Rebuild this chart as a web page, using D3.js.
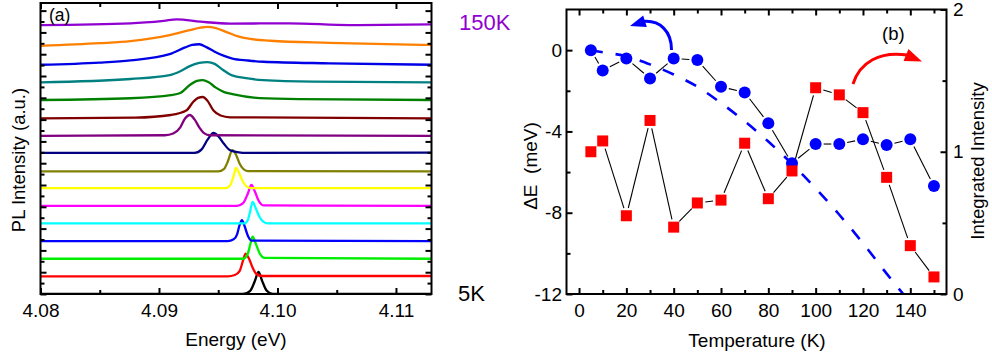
<!DOCTYPE html>
<html><head><meta charset="utf-8">
<script src="https://cdn.jsdelivr.net/npm/d3@7"></script>
<style>
body{margin:0;background:#fff}
svg{display:block}
text{font-family:"Liberation Sans",Arial,Helvetica,sans-serif;fill:#000}
</style>
</head><body>
<svg id="chart" width="992" height="361"></svg>
<script>
// ---------------- DATA : panel (a) PL spectra ----------------
// each spectrum: [energy (eV), intensity above its own stacking offset (a.u.)]
const spectrumLabels = ["5K","10K","20K","30K","40K","50K","60K","70K","80K","90K","100K","110K","120K","130K","140K","150K"];
const spectrumColors = ["#000000","#ff0000","#00ee00","#0000ff","#00ffff","#ff00ff","#ffff00","#808000",
                        "#000080","#800080","#800000","#008000","#008080","#0000e6","#ff8000","#9000d0"];
const spec05  = [[4.080,0],[4.0971,0],[4.0977,0.18],[4.0981,0.75],[4.0984,1.26],[4.0987,0.75],[4.0991,0.18],[4.0996,0],[4.113,0]];
const spec10  = [[4.080,0],[4.0958,0],[4.0964,0.08],[4.0968,0.3],[4.0971,0.9],[4.0973,1.29],[4.0976,1.0],[4.0979,0.5],[4.0982,0.15],[4.0987,0.02],[4.113,0.02]];
const spec20  = [[4.080,0],[4.0971,0],[4.0975,0.3],[4.0977,0.8],[4.0979,1.25],[4.0982,0.8],[4.0985,0.3],[4.0989,0.05],[4.113,0]];
const spec30  = [[4.080,0],[4.0958,0],[4.0963,0.1],[4.0966,0.4],[4.0968,0.9],[4.0970,1.19],[4.0972,0.9],[4.0975,0.3],[4.0978,0.03],[4.113,0]];
const spec40  = [[4.080,0],[4.0972,0],[4.0975,0.2],[4.0977,0.7],[4.0979,1.22],[4.0982,0.8],[4.0985,0.35],[4.0988,0.1],[4.0992,0],[4.113,0]];
const spec50  = [[4.080,0],[4.0966,0],[4.0971,0.15],[4.0975,0.7],[4.0978,1.19],[4.0981,0.8],[4.0984,0.3],[4.0988,0.03],[4.113,0]];
const spec60  = [[4.080,0],[4.0956,0],[4.0960,0.15],[4.0963,0.7],[4.0965,1.15],[4.0968,0.8],[4.0971,0.35],[4.0974,0.1],[4.0978,0],[4.113,0]];
const spec70  = [[4.080,-0.05],[4.0950,-0.05],[4.0955,0.1],[4.0958,0.5],[4.0962,1.16],[4.0965,0.9],[4.0968,0.4],[4.0971,0.1],[4.0975,-0.03],[4.113,-0.05]];
const spec80  = [[4.080,0],[4.0930,0],[4.0936,0.2],[4.0941,0.75],[4.0946,1.13],[4.0950,0.95],[4.0955,0.5],[4.0960,0.15],[4.0966,0.05],[4.0975,0],[4.113,0.02]];
const spec90  = [[4.080,-0.03],[4.0905,0],[4.0912,0.1],[4.0918,0.45],[4.0922,0.95],[4.0926,1.15],[4.0930,0.9],[4.0934,0.45],[4.0938,0.12],[4.0943,0],[4.113,-0.03]];
const spec100 = [[4.080,-0.04],[4.0880,0],[4.0910,0.15],[4.0923,0.4],[4.0929,0.9],[4.0933,1.12],[4.0937,1.17],[4.0941,0.95],[4.0946,0.4],[4.0952,0.12],[4.0960,0.02],[4.113,-0.04]];
const spec110 = [[4.080,0],[4.0876,0.1],[4.0910,0.28],[4.0918,0.4],[4.0926,0.85],[4.0932,1.08],[4.0937,1.13],[4.0942,1.0],[4.0948,0.7],[4.0955,0.45],[4.0962,0.33],[4.0985,0.11],[4.1020,0.05],[4.113,0]];
const spec120 = [[4.080,0],[4.0876,0.19],[4.0909,0.41],[4.0918,0.63],[4.0926,0.92],[4.0934,1.1],[4.0941,1.15],[4.0947,1.05],[4.0953,0.75],[4.0960,0.45],[4.0972,0.25],[4.0988,0.13],[4.1030,0.04],[4.113,0]];
const spec130 = [[4.080,0],[4.0850,0.12],[4.0876,0.25],[4.0909,0.6],[4.0922,0.98],[4.0928,1.12],[4.0934,1.16],[4.0940,1.0],[4.0947,0.74],[4.0955,0.5],[4.0962,0.35],[4.0975,0.24],[4.0988,0.17],[4.1044,0.08],[4.113,0]];
const spec140 = [[4.080,0.07],[4.0850,0.22],[4.0876,0.34],[4.0909,0.68],[4.0926,0.96],[4.0935,1.1],[4.0941,1.15],[4.0948,1.08],[4.0956,0.88],[4.0966,0.62],[4.0977,0.46],[4.0994,0.36],[4.1044,0.24],[4.113,0.12]];
const spec150 = [[4.080,0.25],[4.0876,0.35],[4.0904,0.49],[4.0915,0.57],[4.0935,0.44],[4.0960,0.33],[4.1010,0.35],[4.1061,0.25],[4.113,0.29]];
const spectra = [spec05,spec10,spec20,spec30,spec40,spec50,spec60,spec70,spec80,spec90,spec100,spec110,spec120,spec130,spec140,spec150];
const energyMajorTicks = [4.08,4.09,4.10,4.11];
const energyMinorTicks = [4.085,4.095,4.105];
const intensityTickStep = 0.618;

// ---------------- DATA : panel (b) ----------------
const temperatures = [5,10,20,30,40,50,60,70,80,90,100,110,120,130,140,150];
const deltaE       = [0,-1.0,-0.41,-1.39,-0.41,-0.49,-1.8,-2.08,-3.6,-5.57,-4.62,-4.62,-4.39,-4.67,-4.39,-6.69];
const integratedI  = [1.0,1.076,0.55,1.22,0.47,0.64,0.66,1.06,0.67,0.865,1.45,1.40,1.275,0.82,0.34,0.12];
const fitT         = [5,10,20,30,40,50,60,70,80,90,100,110,120,130,137];
const fitDeltaE    = [0,-0.1,-0.3,-0.7,-1.2,-1.8,-2.6,-3.5,-4.5,-5.6,-6.8,-8.1,-9.5,-11.0,-12.0];
const tempMajorTicks = [0,20,40,60,80,100,120,140];
const tempMinorTicks = [10,30,50,70,90,110,130,150];
const dEMajorTicks = [-12,-8,-4,0];
const dEMinorTicks = [-10,-6,-2];
const intMajorTicks = [0,1,2];
const intMinorTicks = [0.5,1.5];

// ---------------- DRAW ----------------
const svg = d3.select("#chart");
const FS = 19;

function tickAxis(g, axisFn, scale, values, size, fmt, pad){
  const ax = axisFn(scale).tickValues(values).tickSize(size).tickPadding(pad||0)
             .tickFormat(fmt ? fmt : () => "");
  g.call(ax);
  g.select(".domain").remove();
  g.selectAll(".tick line").attr("stroke","#000").attr("stroke-width",2);
  g.selectAll(".tick text").attr("font-size",FS).attr("font-family","Liberation Sans, Arial, sans-serif").attr("fill","#000");
  return g;
}

// ===== panel (a) =====
const ax0 = 40.5, ax1 = 431.5, ay0 = 3, ay1 = 294;
const xa = d3.scaleLinear().domain([4.08,4.113]).range([ax0,ax1]);
const ya = d3.scaleLinear().domain([0,16.5]).range([ay1,ay0]);

const pa = svg.append("g");
pa.append("clipPath").attr("id","clipA").append("rect")
  .attr("x",ax0).attr("y",ay0-2).attr("width",ax1-ax0).attr("height",ay1-ay0+2);

const specG = pa.append("g").attr("clip-path","url(#clipA)");
spectra.forEach((s,i)=>{
  const line = d3.line().x(d=>xa(d[0])).y(d=>ya(d[1]+i)).curve(d3.curveMonotoneX);
  specG.append("path").attr("d",line(s)).attr("fill","none")
    .attr("stroke",spectrumColors[i]).attr("stroke-width",2.3).attr("stroke-linejoin","round");
});

const intTicks = d3.range(0, 16.5, intensityTickStep);
const intMajor = intTicks.filter((d,i)=>i%2===0);
const intMinor = intTicks.filter((d,i)=>i%2===1);

tickAxis(pa.append("g").attr("transform",`translate(0,${ay1})`), d3.axisBottom, xa, energyMajorTicks, -6, d3.format(".2f"), 9.5);
tickAxis(pa.append("g").attr("transform",`translate(0,${ay1})`), d3.axisBottom, xa, energyMinorTicks, -4);
tickAxis(pa.append("g").attr("transform",`translate(0,${ay0})`), d3.axisTop, xa, energyMajorTicks, -6);
tickAxis(pa.append("g").attr("transform",`translate(0,${ay0})`), d3.axisTop, xa, energyMinorTicks, -4);
tickAxis(pa.append("g").attr("transform",`translate(${ax0},0)`), d3.axisLeft, ya, intMajor, -6);
tickAxis(pa.append("g").attr("transform",`translate(${ax0},0)`), d3.axisLeft, ya, intMinor, -4);
tickAxis(pa.append("g").attr("transform",`translate(${ax1},0)`), d3.axisRight, ya, intMajor, -6);
tickAxis(pa.append("g").attr("transform",`translate(${ax1},0)`), d3.axisRight, ya, intMinor, -4);

pa.append("rect").attr("x",ax0).attr("y",ay0).attr("width",ax1-ax0).attr("height",ay1-ay0)
  .attr("fill","none").attr("stroke","#000").attr("stroke-width",2);

pa.append("text").attr("x",236).attr("y",346).attr("text-anchor","middle").attr("font-size",FS).text("Energy (eV)");
pa.append("text").attr("transform","translate(25,160) rotate(-90)").attr("text-anchor","middle").attr("font-size",18.5).text("PL Intensity (a.u.)");
pa.append("text").attr("x",49).attr("y",20.5).attr("font-size",17.5).text("(a)");
pa.append("text").attr("x",459).attr("y",29.5).attr("font-size",22).style("fill",spectrumColors[15]).text(spectrumLabels[15]);
pa.append("text").attr("x",458).attr("y",300.5).attr("font-size",22).text(spectrumLabels[0]);

// ===== panel (b) =====
const bx0 = 566.5, bx1 = 946.5, by0 = 9.5, by1 = 294;
const xb = d3.scaleLinear().domain([-5.3,155.3]).range([bx0,bx1]);
const ybL = d3.scaleLinear().domain([-12,2]).range([by1,by0]);
const ybR = d3.scaleLinear().domain([0,2]).range([by1,by0]);

const pb = svg.append("g");
pb.append("clipPath").attr("id","clipB").append("rect")
  .attr("x",bx0).attr("y",by0).attr("width",bx1-bx0).attr("height",by1-by0);

// dashed fit
pb.append("path").attr("clip-path","url(#clipB)")
  .attr("d", d3.line().x(d=>xb(d[0])).y(d=>ybL(d[1])).curve(d3.curveMonotoneX)(fitT.map((t,i)=>[t,fitDeltaE[i]])))
  .attr("fill","none").attr("stroke","#0000ff").attr("stroke-width",2.6).attr("stroke-dasharray","12,13");

// connecting lines with gaps near symbols
function gapLines(pts, gap){
  const g = pb.append("g");
  for(let i=0;i<pts.length-1;i++){
    const [x1,y1]=pts[i],[x2,y2]=pts[i+1];
    const dx=x2-x1, dy=y2-y1, L=Math.hypot(dx,dy);
    if(L<=2*gap) continue;
    const ux=dx/L, uy=dy/L;
    g.append("line").attr("x1",x1+ux*gap).attr("y1",y1+uy*gap)
      .attr("x2",x2-ux*gap).attr("y2",y2-uy*gap)
      .attr("stroke","#000").attr("stroke-width",1.1);
  }
}
const circlePts = temperatures.map((t,i)=>[xb(t), ybL(deltaE[i])]);
const squarePts = temperatures.map((t,i)=>[xb(t), ybR(integratedI[i])]);
gapLines(circlePts, 8);
gapLines(squarePts, 8);

pb.append("g").selectAll("circle").data(temperatures).join("circle")
  .attr("cx",(t)=>xb(t)).attr("cy",(t,i)=>ybL(deltaE[i])).attr("r",6).attr("fill","#0000ff");
const sq = 11;
pb.append("g").selectAll("rect").data(temperatures).join("rect")
  .attr("x",(t)=>xb(t)-sq/2).attr("y",(t,i)=>ybR(integratedI[i])-sq/2)
  .attr("width",sq).attr("height",sq).attr("fill","#ff0000");

// arrows
function arrow(pathD, tip, base, half, color){
  pb.append("path").attr("d",pathD).attr("fill","none").attr("stroke",color).attr("stroke-width",3);
  const dx=tip[0]-base[0], dy=tip[1]-base[1], L=Math.hypot(dx,dy);
  const px=-dy/L*half, py=dx/L*half;
  pb.append("path").attr("d",`M${tip[0]},${tip[1]}L${base[0]+px},${base[1]+py}L${base[0]-px},${base[1]-py}Z`).attr("fill",color);
}
arrow("M671.5,50 C671.5,31 660,20 643,21.5", [630,26], [645,21.2], 6, "#0000ff");
arrow("M853,84 C860,62 880,51 907,55", [922,61.5], [906,55], 6.5, "#ff0000");

// axes (b)
tickAxis(pb.append("g").attr("transform",`translate(0,${by1})`), d3.axisBottom, xb, tempMajorTicks, -6, d3.format("d"), 9.5);
tickAxis(pb.append("g").attr("transform",`translate(0,${by1})`), d3.axisBottom, xb, tempMinorTicks, -4);
tickAxis(pb.append("g").attr("transform",`translate(0,${by0})`), d3.axisTop, xb, tempMajorTicks, -6);
tickAxis(pb.append("g").attr("transform",`translate(0,${by0})`), d3.axisTop, xb, tempMinorTicks, -4);
tickAxis(pb.append("g").attr("transform",`translate(${bx0},0)`), d3.axisLeft, ybL, dEMajorTicks, -6, d=>d3.format("d")(d).replace("\u2212","-"), 4.5);
tickAxis(pb.append("g").attr("transform",`translate(${bx0},0)`), d3.axisLeft, ybL, dEMinorTicks, -4);
tickAxis(pb.append("g").attr("transform",`translate(${bx1},0)`), d3.axisRight, ybR, intMajorTicks, -6, d3.format("d"), 6.5);
tickAxis(pb.append("g").attr("transform",`translate(${bx1},0)`), d3.axisRight, ybR, intMinorTicks, -4);

pb.append("rect").attr("x",bx0).attr("y",by0).attr("width",bx1-bx0).attr("height",by1-by0)
  .attr("fill","none").attr("stroke","#000").attr("stroke-width",2);

pb.append("text").attr("x",757).attr("y",347).attr("text-anchor","middle").attr("font-size",FS).text("Temperature (K)");
pb.append("text").attr("transform","translate(537,166) rotate(-90)").attr("text-anchor","middle").attr("font-size",FS)
  .attr("xml:space","preserve").text("\u0394E\u00a0\u00a0(meV)");
pb.append("text").attr("transform","translate(984,161) rotate(-90)").attr("text-anchor","middle").attr("font-size",18.5).text("Integrated Intensity");
pb.append("text").attr("x",882).attr("y",40).attr("font-size",18.5).text("(b)");
</script>
</body></html>
